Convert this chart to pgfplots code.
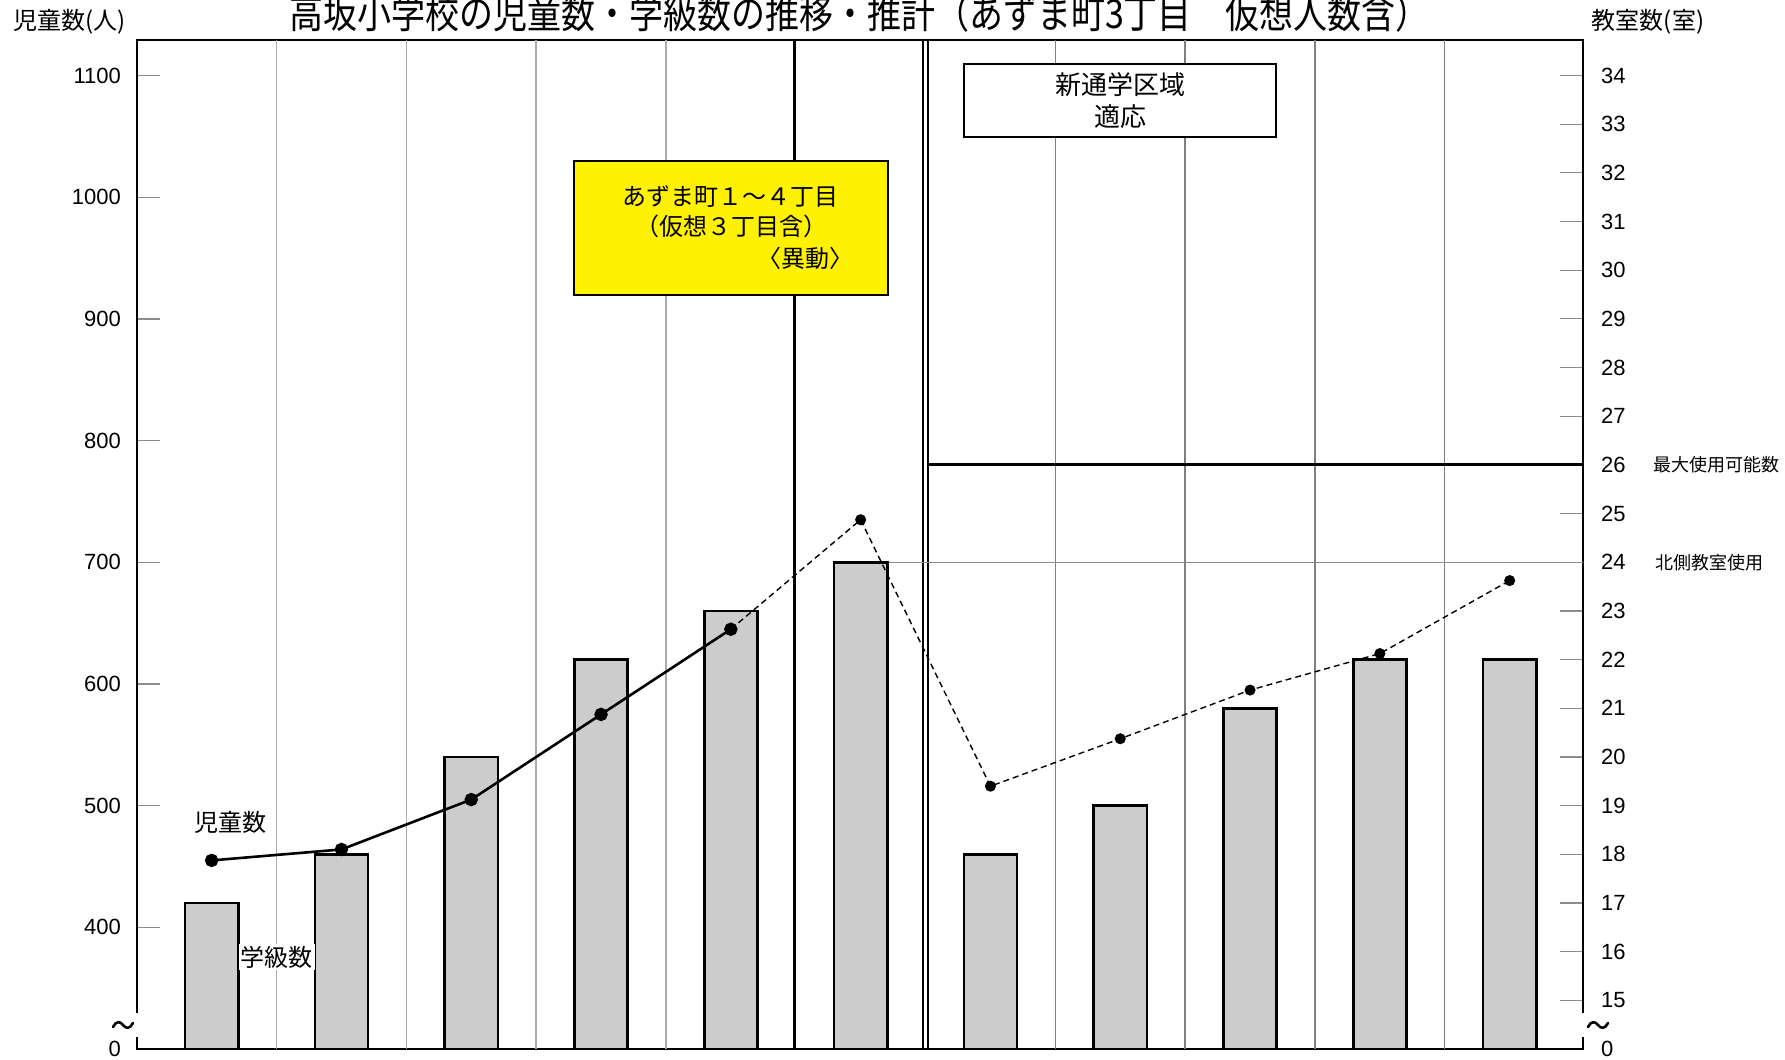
\documentclass[border=0pt]{standalone}
\usepackage{fontspec}
\setmainfont{Liberation Sans}
\newfontfamily\jp{Noto Sans CJK JP}
\newfontfamily\jpt[FakeStretch=0.85]{Noto Sans CJK JP}
\usepackage{pgfplots}
\pgfplotsset{compat=1.18}
\begin{document}
\begin{tikzpicture}
\useasboundingbox (0,0) rectangle (892.5pt,530pt);
% ---------- right axis: classrooms (bars) ----------
\begin{axis}[
  at={(68.5pt,5.5pt)}, anchor=south west,
  scale only axis, width=723pt, height=504.5pt,
  xmin=-0.575, xmax=10.565,
  ymin=14, ymax=34.73,
  xtick=\empty,
  ytick={15,16,...,34}, ytick pos=right,
  tick align=inside, major tick length=11.5pt,
  tick style={draw=black!45, line width=0.6pt},
  yticklabel style={font=\fontsize{11}{11}\selectfont, xshift=5.5pt},
  /pgf/number format/assume math mode=true,
  extra y ticks={14}, extra y tick labels={0},
  extra y tick style={major tick length=0pt},
  axis line style={line width=1.4pt},
]
% vertical separators
\draw[black!33, line width=0.7pt] (axis cs:0.5,14) -- (axis cs:0.5,34.73);
\draw[black!33, line width=0.7pt] (axis cs:1.5,14) -- (axis cs:1.5,34.73);
\draw[black!33, line width=0.7pt] (axis cs:2.5,14) -- (axis cs:2.5,34.73);
\draw[black!33, line width=0.7pt] (axis cs:3.5,14) -- (axis cs:3.5,34.73);
\draw[black!50, line width=0.7pt] (axis cs:6.5,14) -- (axis cs:6.5,34.73);
\draw[black!50, line width=0.7pt] (axis cs:7.5,14) -- (axis cs:7.5,34.73);
\draw[black!50, line width=0.7pt] (axis cs:8.5,14) -- (axis cs:8.5,34.73);
\draw[black!50, line width=0.7pt] (axis cs:9.5,14) -- (axis cs:9.5,34.73);
\draw[black, line width=1.2pt] (axis cs:4.49,14) -- (axis cs:4.49,34.73);
\draw[black, line width=1.1pt] (axis cs:5.48,14) -- (axis cs:5.48,34.73);
\draw[black, line width=1.1pt] (axis cs:5.52,14) -- (axis cs:5.52,34.73);
% horizontal reference lines
\draw[black!45, line width=0.7pt] (axis cs:5.0,24) -- (axis cs:10.565,24);
\draw[black, line width=1.5pt] (axis cs:5.52,26) -- (axis cs:10.565,26);
% bars: number of classes
\addplot[ybar, bar width=0.41, fill=black!20, draw=black, line width=1.3pt]
  coordinates {(0,17) (1,18) (2,20) (3,22) (4,23) (5,24) (6,18) (7,19) (8,21) (9,22) (10,22)};
\end{axis}
% ---------- left axis: pupils (line) ----------
\begin{axis}[
  at={(68.5pt,5.5pt)}, anchor=south west,
  scale only axis, width=723pt, height=504.5pt,
  xmin=-0.575, xmax=10.565,
  ymin=300, ymax=1129.3,
  axis x line=none, axis y line*=left,
  xtick=\empty,
  ytick={400,500,...,1100},
  tick align=inside, major tick length=11.5pt,
  tick style={draw=black!45, line width=0.6pt},
  yticklabel style={font=\fontsize{11}{11}\selectfont, xshift=-4.5pt},
  /pgf/number format/assume math mode=true,
  /pgf/number format/1000 sep={},
  extra y ticks={300}, extra y tick labels={0},
  extra y tick style={major tick length=0pt},
  axis line style={line width=1.4pt},
]
\addplot[black, line width=1.3pt, mark=*, mark size=2.7pt]
  coordinates {(0,455) (1,464) (2,505) (3,575) (4,645)};
\addplot[black, line width=0.7pt, dash pattern=on 3pt off 2pt, mark=*, mark size=2.4pt, mark options={solid}]
  coordinates {(4,645) (5,735) (6,516) (7,555) (8,595) (9,625) (10,685)};
% annotation boxes
\draw[fill=yellow, line width=1.2pt] (axis cs:2.79,1029.8) rectangle (axis cs:5.21,919.5);
\node[font=\jp\fontsize{12}{12}\selectfont] at (axis cs:4.0,1001) {あずま町１～４丁目};
\node[font=\jp\fontsize{12}{12}\selectfont] at (axis cs:4.005,976) {（仮想３丁目含）};
\node[font=\jp\fontsize{12}{12}\selectfont, anchor=east, inner sep=0pt] at (axis cs:4.95,950) {〈異動〉};
\draw[fill=white, line width=1.2pt] (axis cs:5.796,1109.6) rectangle (axis cs:8.2,1049.6);
\node[font=\jp\fontsize{13}{13}\selectfont] at (axis cs:7.0,1093) {新通学区域};
\node[font=\jp\fontsize{13}{13}\selectfont] at (axis cs:7.0,1066) {適応};
% series labels
\node[font=\jp\fontsize{12}{12}\selectfont] at (axis cs:0.149,486.6) {児童数};
\node[font=\jp\fontsize{12}{12}\selectfont, fill=white, inner sep=1pt] at (axis cs:0.503,375.6) {学級数};
\end{axis}
% axis breaks
\fill[white] (64pt,11.5pt) rectangle (73pt,23.5pt);
\fill[white] (787pt,11.5pt) rectangle (796pt,23.5pt);
\draw[line width=1.3pt, line cap=round] (56.5pt,16.5pt) .. controls (58pt,19.5pt) and (60pt,19.5pt) .. (61.5pt,17.5pt) .. controls (63pt,15.5pt) and (65pt,15.5pt) .. (66.5pt,18.5pt);
\draw[line width=1.3pt, line cap=round] (794pt,16.5pt) .. controls (795.5pt,19.5pt) and (797.5pt,19.5pt) .. (799pt,17.5pt) .. controls (800.5pt,15.5pt) and (802.5pt,15.5pt) .. (804pt,18.5pt);
% titles
\node[anchor=base, font=\jpt\fontsize{20}{20}\selectfont, inner sep=0pt] at (429.75pt,515.5pt) {高坂小学校の児童数・学級数の推移・推計（あずま町3丁目　仮想人数含）};
\node[font=\jp\fontsize{12}{12}\selectfont, inner sep=0pt] at (35pt,519pt) {児童数(人)};
\node[font=\jp\fontsize{12}{12}\selectfont, inner sep=0pt] at (824pt,519pt) {教室数(室)};
\node[font=\jp\fontsize{9}{9}\selectfont, anchor=west, inner sep=0pt] at (826.5pt,297.5pt) {最大使用可能数};
\node[font=\jp\fontsize{9}{9}\selectfont, anchor=west, inner sep=0pt] at (827.5pt,248.5pt) {北側教室使用};
\end{tikzpicture}
\end{document}
